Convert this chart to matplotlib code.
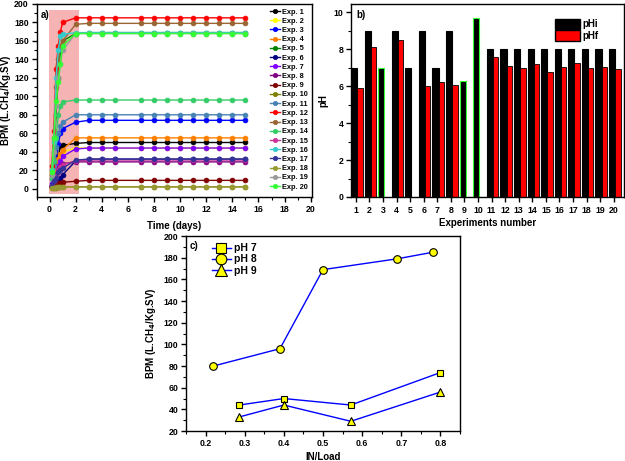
import numpy as np
import matplotlib.pyplot as plt
from matplotlib.patches import Rectangle, Patch
from matplotlib.ticker import MultipleLocator

plt.rcParams['font.family'] = ['Liberation Sans', 'DejaVu Sans']
plt.rcParams['font.weight'] = 'bold'
plt.rcParams['axes.labelweight'] = 'bold'
plt.rcParams['axes.linewidth'] = 1.0

# ---- panel a: BPM vs time ----
days = [0.17, 0.33, 0.5, 0.67, 0.83, 1, 2, 3, 4, 5, 7, 8, 9, 10, 11, 12, 13, 14, 15]
exp_labels = ['Exp. %d' % i for i in range(1, 21)]
exp_colors = ['#000000', '#ffff00', '#0000ff', '#ff8000', '#008000',
              '#000080', '#8000ff', '#800080', '#800000', '#808000',
              '#4682b4', '#ff0000', '#996633', '#33cc66', '#cc3399',
              '#33cccc', '#333399', '#999933', '#999999', '#33ff33']
bpm = [
    [3, 10, 20, 35, 46, 47, 49, 50, 50, 50, 50, 50, 50, 50, 50, 50, 50, 50, 50],
    [2, 6, 14, 25, 35, 40, 44, 44, 44, 44, 44, 44, 44, 44, 44, 44, 44, 44, 44],
    [5, 15, 30, 48, 60, 65, 72, 74, 74, 74, 74, 74, 74, 74, 74, 74, 74, 74, 74],
    [3, 10, 22, 32, 38, 42, 55, 55, 55, 55, 55, 55, 55, 55, 55, 55, 55, 55, 55],
    [15, 40, 80, 120, 150, 160, 168, 169, 169, 169, 169, 169, 169, 169, 169, 169, 169, 169, 169],
    [2, 5, 8, 10, 12, 15, 30, 32, 32, 32, 32, 32, 32, 32, 32, 32, 32, 32, 32],
    [3, 8, 15, 25, 30, 35, 43, 44, 44, 44, 44, 44, 44, 44, 44, 44, 44, 44, 44],
    [3, 8, 15, 22, 25, 27, 29, 29, 29, 29, 29, 29, 29, 29, 29, 29, 29, 29, 29],
    [2, 4, 5, 6, 6, 7, 8, 9, 9, 9, 9, 9, 9, 9, 9, 9, 9, 9, 9],
    [0.5, 1, 1, 1.5, 1.5, 2, 2, 2, 2, 2, 2, 2, 2, 2, 2, 2, 2, 2, 2],
    [10, 25, 45, 60, 68, 72, 80, 80, 80, 80, 80, 80, 80, 80, 80, 80, 80, 80, 80],
    [25, 62, 130, 155, 170, 180, 185, 185, 185, 185, 185, 185, 185, 185, 185, 185, 185, 185, 185],
    [20, 55, 110, 140, 155, 160, 178, 179, 179, 179, 179, 179, 179, 179, 179, 179, 179, 179, 179],
    [12, 30, 55, 80, 90, 94, 96, 96, 96, 96, 96, 96, 96, 96, 96, 96, 96, 96, 96],
    [3, 8, 14, 20, 24, 26, 30, 31, 31, 31, 31, 31, 31, 31, 31, 31, 31, 31, 31],
    [20, 50, 120, 150, 165, 167, 169, 169, 169, 169, 169, 169, 169, 169, 169, 169, 169, 169, 169],
    [3, 8, 12, 18, 20, 22, 31, 32, 32, 32, 32, 32, 32, 32, 32, 32, 32, 32, 32],
    [0.5, 1, 1.5, 1.5, 2, 2, 2, 2, 2, 2, 2, 2, 2, 2, 2, 2, 2, 2, 2],
    [15, 40, 90, 120, 135, 150, 168, 168, 168, 168, 168, 168, 168, 168, 168, 168, 168, 168, 168],
    [18, 55, 95, 115, 135, 155, 168, 168, 168, 168, 168, 168, 168, 168, 168, 168, 168, 168, 168],
]

# ---- panel b: pH ----
exp_num = np.arange(1, 21)
ph_i = [7, 9, 7, 9, 7, 9, 7, 9, 6.3, 9.7, 8, 8, 8, 8, 8, 8, 8, 8, 8, 8]
ph_f = [5.9, 8.1, 0, 8.5, 0, 6.0, 6.2, 6.05, 0, 0,
        7.6, 7.1, 7.0, 7.2, 6.75, 7.05, 7.25, 7.0, 7.05, 6.95]
green_edge = [3, 9, 10]

# ---- panel c: BPM vs IN/Load ----
x_ph7 = [0.286, 0.4, 0.571, 0.8]
y_ph7 = [44, 50, 44, 74]
x_ph8 = [0.22, 0.39, 0.5, 0.69, 0.78]
y_ph8 = [80, 96, 169, 179, 185]
x_ph9 = [0.286, 0.4, 0.571, 0.8]
y_ph9 = [33, 44, 29, 56]

tick_fs = 6.3
lab_fs = 7


def origin_ticks(ax):
    ax.tick_params(which='major', direction='out', length=3.5, width=1,
                   labelsize=tick_fs, pad=2)
    ax.tick_params(which='minor', direction='out', length=2, width=0.8)
    for lab in ax.get_xticklabels() + ax.get_yticklabels():
        lab.set_fontweight('bold')


fig = plt.figure(figsize=(6.25, 4.61), dpi=100)

# panel a
axa = fig.add_axes([0.0584, 0.5727, 0.4408, 0.4187])
axa.add_patch(Rectangle((-0.08, -5.5), 2.3, 198.5, facecolor='#f6b3b3',
                        edgecolor='none', zorder=0))
for vals, col, lab in zip(bpm, exp_colors, exp_labels):
    axa.plot(days, vals, '-o', color=col, lw=1, markersize=3.5,
             markeredgewidth=0.5, markeredgecolor=col, label=lab)
axa.set_xlim(-1, 20.1)
axa.set_ylim(-9, 200)
axa.xaxis.set_major_locator(MultipleLocator(2))
axa.xaxis.set_minor_locator(MultipleLocator(1))
axa.yaxis.set_major_locator(MultipleLocator(20))
axa.yaxis.set_minor_locator(MultipleLocator(10))
axa.set_xlabel('Time (days)', fontsize=lab_fs, labelpad=5)
axa.set_ylabel('BPM (L.CH$_\\mathbf{4}$/Kg.SV)', fontsize=7, labelpad=1)
axa.text(0.015, 0.97, 'a)', transform=axa.transAxes, fontsize=7,
         fontweight='bold', va='top')
axa.legend(loc='upper right', frameon=False, labelspacing=0.28,
           handlelength=1.3, handletextpad=0.3, borderaxespad=0.2,
           markerscale=0.9, prop={'weight': 'bold', 'size': 5.3})
origin_ticks(axa)

# panel b
axb = fig.add_axes([0.5616, 0.5727, 0.4368, 0.4187])
edges = ['#33ff33' if n in green_edge else 'black' for n in exp_num]
axb.bar(exp_num - 0.125, ph_i, width=0.45, color='black', edgecolor=edges,
        linewidth=0.8, label='pHi')
axb.bar(exp_num + 0.3, ph_f, width=0.4, color='#ff0000', edgecolor='black',
        linewidth=0.6, label='pHf')
axb.set_xlim(0.65, 20.75)
axb.set_ylim(0, 10.45)
axb.set_xticks(exp_num)
axb.yaxis.set_major_locator(MultipleLocator(2))
axb.yaxis.set_minor_locator(MultipleLocator(1))
axb.set_xlabel('Experiments number', fontsize=lab_fs, labelpad=2)
axb.set_ylabel('pH', fontsize=lab_fs, labelpad=4)
axb.text(0.02, 0.97, 'b)', transform=axb.transAxes, fontsize=7,
         fontweight='bold', va='top')
axb.legend(handles=[Patch(facecolor='black', edgecolor='black', label='pHi'),
                    Patch(facecolor='#ff0000', edgecolor='black', label='pHf')],
           loc='upper right', bbox_to_anchor=(0.94, 0.97), frameon=False,
           prop={'weight': 'bold', 'size': 7}, handlelength=2.6,
           handleheight=1.3, labelspacing=0.1, handletextpad=0.3)
origin_ticks(axb)
axb.tick_params(axis='x', which='major', pad=3)

# panel c
axc = fig.add_axes([0.2976, 0.065, 0.4384, 0.423])
mk = dict(color='#0000ff', lw=1, markerfacecolor='#ffff00',
          markeredgecolor='black', markeredgewidth=0.8)
axc.plot(x_ph7, y_ph7, '-s', markersize=5, label='pH 7', **mk)
axc.plot(x_ph8, y_ph8, '-o', markersize=5.5, label='pH 8', **mk)
axc.plot(x_ph9, y_ph9, '-^', markersize=6, label='pH 9', **mk)
axc.set_xlim(0.15, 0.85)
axc.set_ylim(20, 200)
axc.xaxis.set_major_locator(MultipleLocator(0.1))
axc.xaxis.set_minor_locator(MultipleLocator(0.05))
axc.yaxis.set_major_locator(MultipleLocator(20))
axc.yaxis.set_minor_locator(MultipleLocator(10))
axc.set_xlabel('IN/Load', fontsize=lab_fs, labelpad=3)
axc.set_ylabel('BPM (L.CH$_\\mathbf{4}$/Kg.SV)', fontsize=lab_fs, labelpad=4)
axc.text(0.015, 0.975, 'c)', transform=axc.transAxes, fontsize=7,
         fontweight='bold', va='top')
axc.legend(loc='upper left', bbox_to_anchor=(0.06, 1.01), frameon=False,
           prop={'weight': 'bold', 'size': 7.5}, markerscale=1.4,
           handlelength=1.8, labelspacing=0.1, handletextpad=0.3)
origin_ticks(axc)

fig.savefig('out.png', dpi=100)
